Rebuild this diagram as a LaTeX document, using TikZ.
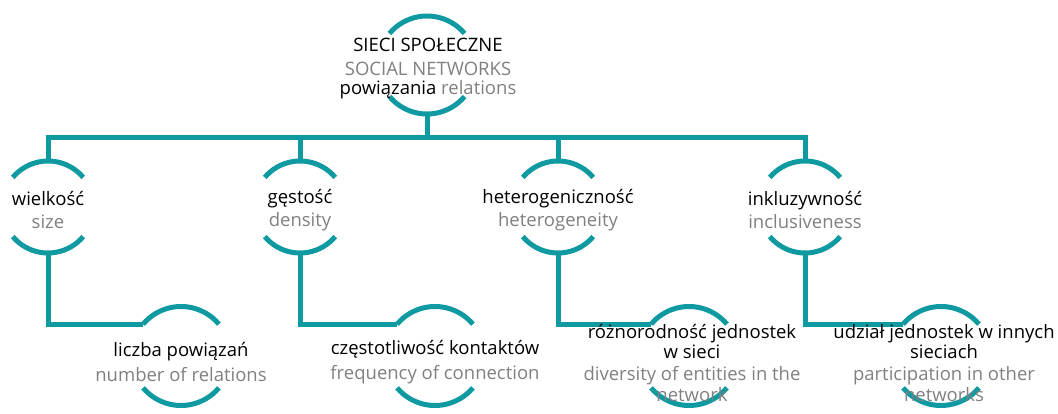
\documentclass[tikz,border=0pt]{standalone}
\usepackage{fontspec}
\setmainfont{Open Sans}

\definecolor{netteal}{HTML}{0F9AA2}
\definecolor{engray}{HTML}{808080}

\newcommand{\en}[1]{\textcolor{engray}{#1}}
% top and bottom arcs of a ring node
\newcommand{\ringarcs}[2]{%
  \draw[link] (#1.40) arc[start angle=40,end angle=140,radius=#2];
  \draw[link] (#1.220) arc[start angle=220,end angle=320,radius=#2];}

\tikzset{
  ring/.style={circle,inner sep=0pt,outer sep=0pt,minimum size=#1},
  link/.style={netteal,line width=5pt},
  txt/.style={align=center,inner sep=0pt,font=\fontsize{18.5}{22}\selectfont}
}

\begin{document}
\begin{tikzpicture}[x=1pt,y=1pt]
		\useasboundingbox (0,0) rectangle (1058,413);
		\coordinate (bar) at (0,275);
		% rings
		\node[ring=98pt] (soc) at (427,348) {};
		\node[ring=92pt] (size) at (48,206) {};
		\node[ring=92pt] (dens) at (300,206) {};
		\node[ring=92pt] (het) at (558,206) {};
		\node[ring=92pt] (incl) at (805,206) {};
		\node[ring=99pt] (rel) at (181,57) {};
		\node[ring=99pt] (freq) at (435,57) {};
		\node[ring=99pt] (div) at (689,57) {};
		\node[ring=99pt] (part) at (941,57) {};
		\ringarcs{soc}{49}
		\foreach \n in {size,dens,het,incl}{\ringarcs{\n}{46}}
		\foreach \n in {rel,freq,div,part}{\ringarcs{\n}{49.5}}

		% links
		\draw[link] (soc.south) -- (soc.south |- bar);
		\draw[link] (size.north) -- (size.north |- bar) -- (incl.north |- bar) -- (incl.north);
		\draw[link] (dens.north) -- (dens.north |- bar);
		\draw[link] (het.north) -- (het.north |- bar);
		\draw[link] (size.south) |- (rel.140);
		\draw[link] (dens.south) |- (freq.140);
		\draw[link] (het.south) |- (div.140);
		\draw[link] (incl.south) |- (part.140);

		% texts
		\node[txt] (soc-t) at (428,344) {SIECI SPOŁECZNE\\[2pt] \en{SOCIAL NETWORKS}\\[-3pt] powiązania \en{relations}};
		\node[txt] (size-t) at ([yshift=-3pt]size.center) {wielkość\\[1pt] \en{size}};
		\node[txt] (dens-t) at ([yshift=-3pt]dens.center) {gęstość\\[1pt] \en{density}};
		\node[txt] (het-t) at ([yshift=-3pt]het.center) {heterogeniczność\\[1pt] \en{heterogeneity}};
		\node[txt] (incl-t) at ([yshift=-3pt]incl.center) {inkluzywność\\[1pt] \en{inclusiveness}};
		\node[txt] (rel-t) at ([yshift=-6pt]rel.center) {liczba powiązań\\[3pt] \en{number of relations}};
		\node[txt] (freq-t) at ([yshift=-6pt]freq.center) {częstotliwość kontaktów\\[3pt] \en{frequency of connection}};
		\node[txt] (div-t) at ([xshift=3pt,yshift=-7pt]div.center) {różnorodność jednostek\\[-2pt] w sieci\\ \en{diversity of entities in the}\\[-1pt] \en{network}};
		\node[txt] (part-t) at ([xshift=3pt,yshift=-7pt]part.center) {udział jednostek w innych\\[-2pt] sieciach\\ \en{participation in other}\\[-1pt] \en{networks}};
	    \end{tikzpicture}
\end{document}
